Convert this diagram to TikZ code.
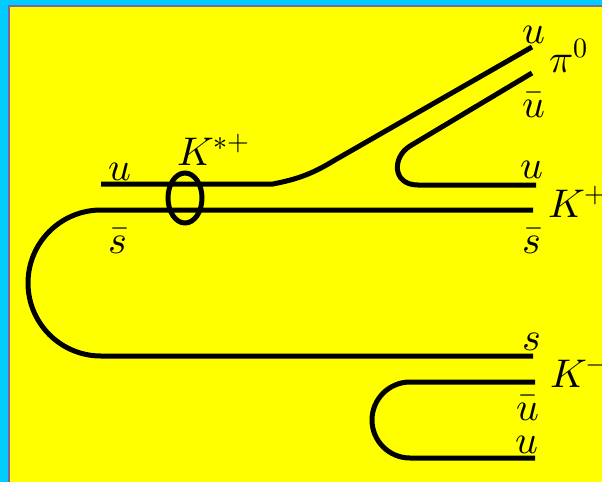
\documentclass[tikz,border=0pt]{standalone}
\usepackage{fontspec}
\usepackage{unicode-math}
\setmathfont{Latin Modern Math}
\definecolor{bordercyan}{HTML}{00CCFF}
\definecolor{borderline}{HTML}{8064A2}
\definecolor{panel}{HTML}{FFFF00}
\tikzset{
  quark/.style={line width=5pt, line join=round},
  lbl/.style={anchor=base west, inner sep=0pt, font=\fontsize{40}{44}\selectfont}
}
\begin{document}
\begin{tikzpicture}[x=1pt, y=-1pt]
    % Background and frame
    \useasboundingbox (0,0) rectangle (602,482);
    \fill[bordercyan] (0,0) rectangle (602,482);
    \fill[borderline] (8,5) rectangle (602,482);
    \fill[panel] (10,7) rectangle (602,482);

    % End points of the quark lines
    \coordinate (uin)   at (101,184);
    \coordinate (ubend) at (273,184);
    \coordinate (upi)   at (532,47);
    \coordinate (ubpi)  at (532,73);
    \coordinate (ubtip) at (410,146);
    \coordinate (ukp)   at (418,185);
    \coordinate (ukout) at (536,185);
    \coordinate (sbout) at (533,210);
    \coordinate (sbin)  at (101,210);
    \coordinate (sout)  at (533,356);
    \coordinate (ubkm)  at (535,382);
    \coordinate (ubtop) at (410,382);
    \coordinate (ukm)   at (535,458);
    \coordinate (kstar) at (185,198);

    % Quark lines
    \draw[quark] (uin) -- (ubend) .. controls (298,179) and (312,174) .. (335,160) -- (upi);
    \draw[quark] (ubpi) -- (ubtip) .. controls (392,157) and (392,185) .. (ukp) -- (ukout);
    \draw[quark] (sbout) -- (sbin) arc (270:90:73) -- (sout);
    \draw[quark] (ubkm) -- (ubtop) arc (270:90:38) -- (ukm);

    % K*+ ring
    \draw[line width=5pt] (kstar) ellipse [x radius=17, y radius=25];

    % Labels
    \node[lbl] (lu)    at (108,180) {$u$};
    \node[lbl] (lsb)   at (108,253) {$\bar{s}$};
    \node[lbl] (lkst)  at (177,165) {$K^{*+}$};
    \node[lbl] (lupi)  at (522,43)  {$u$};
    \node[lbl] (lpi)   at (549,72)  {$\pi^0$};
    \node[lbl] (lubpi) at (522,117) {$\bar{u}$};
    \node[lbl] (lukp)  at (520,178) {$u$};
    \node[lbl] (lkp)   at (548,217) {$K^+$};
    \node[lbl] (lsbkp) at (522,253) {$\bar{s}$};
    \node[lbl] (lskm)  at (522,350) {$s$};
    \node[lbl] (lkm)   at (550,387) {$K^-$};
    \node[lbl] (lubkm) at (516,420) {$\bar{u}$};
    \node[lbl] (lukm)  at (515,453) {$u$};
\end{tikzpicture}
\end{document}
